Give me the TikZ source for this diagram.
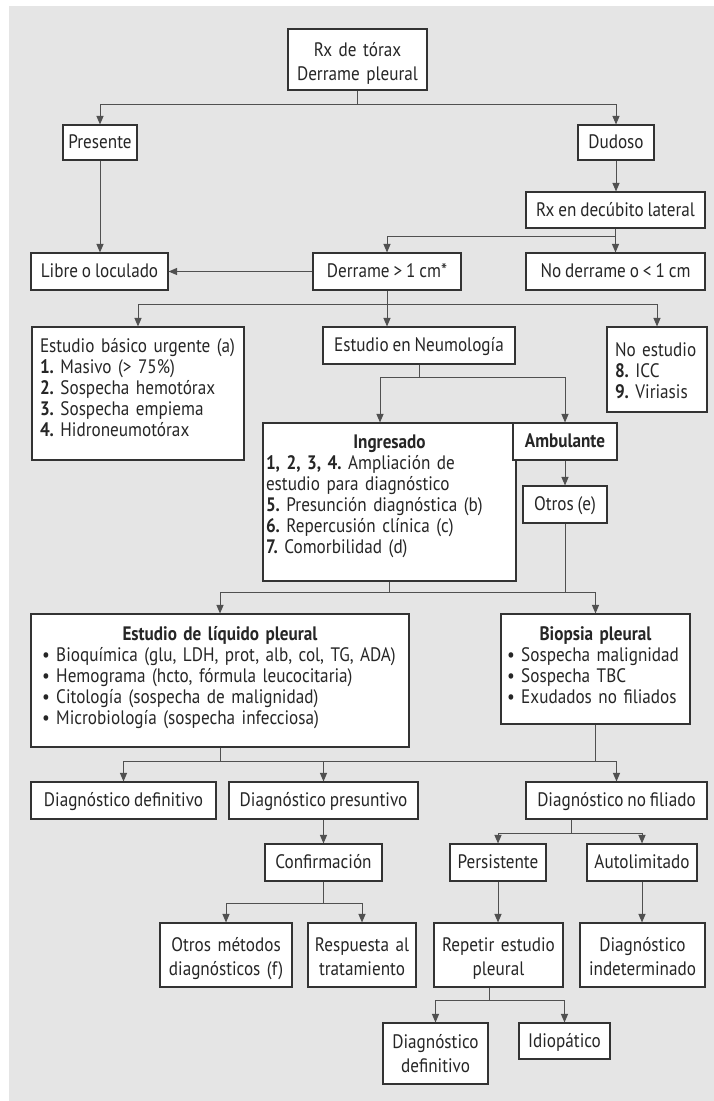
\documentclass[tikz,border=0pt]{standalone}
\usepackage{fontspec}
\setmainfont{PT Sans}[FakeStretch=0.88,WordSpace=0.85]
\usetikzlibrary{arrows.meta,calc}
\definecolor{bgc}{HTML}{E5E5E5}
\definecolor{bdc}{HTML}{333333}
\definecolor{lnc}{HTML}{505050}
\tikzset{
  box/.style={draw=bdc,fill=white,line width=1.1pt,inner sep=0pt,align=center,text=black!85,
    font=\fontsize{19.5}{24}\selectfont\frenchspacing,text height=15pt,text depth=3pt},
  lst/.style={align=left,font=\fontsize{19.5}{21}\selectfont\frenchspacing},
  conn/.style={draw=lnc,line width=1pt},
  arr/.style={conn,-{Triangle[length=8.5pt,width=7pt]}},
}
\newcommand\bx[7][]{\node[box,minimum width={(#5-#3)*1pt},minimum height={(#6-#4)*1pt},#1] (#2) at ({(#3+#5)/2},{(#4+#6)/2}) {#7};}
\begin{document}
\frenchspacing
\begin{tikzpicture}[x=1pt,y=-1pt]
\useasboundingbox (0,0) rectangle (714,1101);
\fill[bgc] (9,6) rectangle (714,1101);

\bx[text width=137pt,text height=27pt,text depth=34pt]{rx}{288}{29}{427}{90}{Rx de tórax\\Derrame pleural}
\bx{pres}{63}{125}{137}{160}{Presente}
\bx{dud}{578}{125}{654}{160}{Dudoso}
\bx{rxdl}{526}{192}{705}{228}{Rx en decúbito lateral}
\bx{libre}{31}{253}{168}{290}{Libre o loculado}
\bx{derr}{313}{253}{461}{290}{Derrame > 1 cm*}
\bx{nod}{526}{253}{705}{290}{No derrame o < 1 cm}
\bx[lst,text width=196pt,inner xsep=8pt,text height=25pt,text depth=108pt]{ebu}{32}{327}{244}{460}{\mbox{Estudio básico urgente (a)}\\\mbox{\textbf{1.} Masivo (> 75\%)}\\\mbox{\textbf{2.} Sospecha hemotórax}\\\mbox{\textbf{3.} Sospecha empiema}\\\mbox{\textbf{4.} Hidroneumotórax}}
\bx{neu}{323}{327}{515}{364}{Estudio en Neumología}
\bx[lst,text width=84pt,inner xsep=8pt,text height=29pt,text depth=56pt]{noest}{607}{327}{707}{412}{\mbox{No estudio}\\\mbox{\textbf{8.} ICC}\\\mbox{\textbf{9.} Viriasis}}
\bx[lst,text width=247pt,inner xsep=3pt,text height=25pt,text depth=133pt]{ing}{263}{423}{516}{581}{\makebox[\linewidth]{\bfseries Ingresado}\\\mbox{\textbf{1, 2, 3, 4.} Ampliación de}\\\mbox{estudio para diagnóstico}\\\mbox{\textbf{5.} Presunción diagnóstica (b)}\\\mbox{\textbf{6.} Repercusión clínica (c)}\\\mbox{\textbf{7.} Comorbilidad (d)}}
\bx[font=\fontsize{19.5}{24}\selectfont\bfseries]{amb}{513}{423}{617}{460}{Ambulante}
\bx{otros}{523}{486}{607}{523}{Otros (e)}
\bx[lst,text width=356pt,inner xsep=11pt,text height=26pt,text depth=107pt]{elp}{31}{614}{409}{747}{\makebox[\linewidth]{\bfseries Estudio de líquido pleural}\\\mbox{• Bioquímica (glu, LDH, prot, alb, col, TG, ADA)}\\\mbox{• Hemograma (hcto, fórmula leucocitaria)}\\\mbox{• Citología (sospecha de malignidad)}\\\mbox{• Microbiología (sospecha infecciosa)}}
\bx[lst,text width=177pt,inner xsep=6pt,text height=26pt,text depth=84pt]{bio}{501}{614}{690}{724}{\makebox[\linewidth]{\bfseries Biopsia pleural}\\\mbox{• Sospecha malignidad}\\\mbox{• Sospecha TBC}\\\mbox{• Exudados no filiados}}
\bx{dd}{31}{782}{216}{819}{Diagnóstico definitivo}
\bx{dp}{229}{782}{418}{819}{Diagnóstico presuntivo}
\bx{dnf}{526}{782}{707}{819}{Diagnóstico no filiado}
\bx{conf}{265}{844}{382}{881}{Confirmación}
\bx{pers}{450}{844}{546}{881}{Persistente}
\bx{auto}{587}{844}{697}{881}{Autolimitado}
\bx[text width=130pt,text height=28pt,text depth=36pt]{om}{160}{923}{292}{987}{Otros métodos\\diagnósticos (f)}
\bx[text width=106pt,text height=28pt,text depth=36pt]{resp}{308}{923}{416}{987}{Respuesta al\\tratamiento}
\bx[text width=127pt,text height=28pt,text depth=36pt]{rep}{434}{923}{563}{987}{Repetir estudio\\pleural}
\bx[text width=123pt,text height=28pt,text depth=36pt]{dind}{580}{923}{705}{987}{Diagnóstico\\indeterminado}
\bx[text width=103pt,text height=25pt,text depth=36pt]{dd2}{383}{1023}{488}{1084}{Diagnóstico\\definitivo}
\bx{idio}{519}{1023}{610}{1059}{Idiopático}

\coordinate (j1) at (357.5,104);
\draw[conn] (rx.south) -- (j1);
\draw[arr] (j1) -| (pres.north);
\draw[arr] (j1) -| (dud.north);
\draw[arr] (pres.south) -- (pres.south |- libre.north);
\draw[arr] (dud.south) -- (dud.south |- rxdl.north);
\coordinate (j2) at (615.5,236);
\draw[conn] (rxdl.south) -- (j2);
\draw[arr] (j2) -| (derr.north);
\draw[arr] (j2) -- (j2 |- nod.north);
\draw[arr] (derr.west) -- (libre.east);
\coordinate (j3) at (387,304);
\draw[conn] (derr.south) -- (j3);
\draw[arr] (j3) -| (ebu.north);
\draw[arr] (j3) -| (noest.north);
\draw[arr] (j3) -- (j3 |- neu.north);
\coordinate (j4) at (419,377);
\draw[conn] (neu.south) -- (j4);
\coordinate (ingin) at ($(ing.north)+(-9.5,0)$);
\draw[arr] (j4) -| (ingin);
\draw[arr] (j4) -| (amb.north);
\draw[arr] (amb.south) -- (otros.north);
\coordinate (j5) at (389.5,592);
\draw[conn] (ing.south) -- (j5);
\draw[arr] (j5) -| (elp.north);
\draw[arr] (j5) -| (bio.north);
\draw[conn] (otros.south) -- (otros.south |- j5);
\coordinate (j6) at (220,761);
\draw[conn] (elp.south) -- (j6);
\draw[conn] (bio.south) -- (bio.south |- j6);
\draw[arr] (j6) -| (dd.north);
\draw[arr] (j6) -| (dnf.north);
\draw[arr] (j6 -| dp.north) -- (dp.north);
\draw[arr] (dp.south) -- (conf.north);
\coordinate (j7) at (323.5,903);
\draw[conn] (conf.south) -- (j7);
\draw[arr] (j7) -| (om.north);
\draw[arr] (j7) -| (resp.north);
\coordinate (j8) at (571,833);
\draw[conn] (j8 |- dnf.south) -- (j8);
\draw[arr] (j8) -| (pers.north);
\draw[arr] (j8) -| (auto.north);
\draw[arr] (pers.south) -- (pers.south |- rep.north);
\draw[arr] (auto.south) -- (auto.south |- dind.north);
\coordinate (j9) at (489,1000);
\draw[conn] (j9 |- rep.south) -- (j9);
\draw[arr] (j9) -| (dd2.north);
\draw[arr] (j9) -| (idio.north);
\end{tikzpicture}
\end{document}
